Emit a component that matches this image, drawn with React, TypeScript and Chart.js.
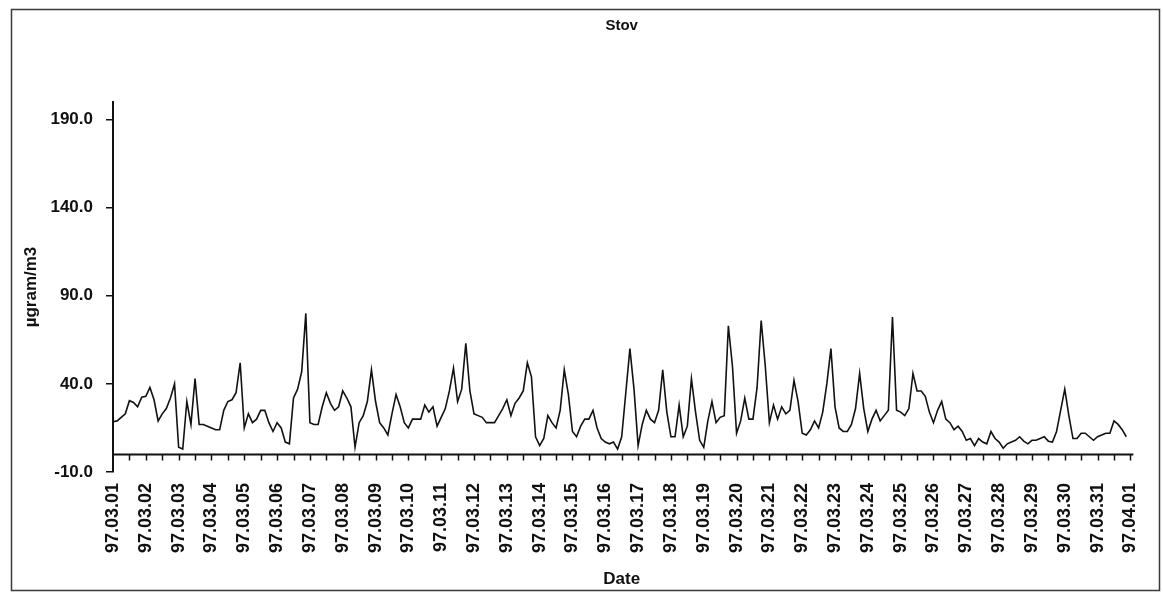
import { useEffect, useRef } from "react";
import { Chart, registerables } from "chart.js";

Chart.register(...registerables);

// Day labels on the time axis (one per day, midnight)
const dayLabels = [
  "97.03.01", "97.03.02", "97.03.03", "97.03.04", "97.03.05", "97.03.06", "97.03.07", "97.03.08",
  "97.03.09", "97.03.10", "97.03.11", "97.03.12", "97.03.13", "97.03.14", "97.03.15", "97.03.16",
  "97.03.17", "97.03.18", "97.03.19", "97.03.20", "97.03.21", "97.03.22", "97.03.23", "97.03.24",
  "97.03.25", "97.03.26", "97.03.27", "97.03.28", "97.03.29", "97.03.30", "97.03.31", "97.04.01",
];

const yTicks = [-10, 40, 90, 140, 190];

// Dust concentration (µg/m3), one reading every 3 hours, grouped by week
const stepHours = 3;

const week1 = [
  18.5, 19, 21, 23, 30.5, 29.5, 27, 32.5,
  33, 38, 31, 19, 23, 26, 32, 40,
  4, 3, 30, 17, 43, 17, 17, 16,
  15, 14, 14, 25, 30, 31, 35, 52,
  15, 23, 18, 20, 25, 25, 18, 13,
  18, 15, 7, 6, 32, 37, 47, 80,
  18, 17, 17, 27, 35, 29, 25, 27,
];

const week2 = [
  36, 32, 27, 4, 18, 22, 30, 48,
  30, 18, 15, 11, 23, 34, 27, 18,
  15, 20, 20, 20, 28, 24, 27, 16,
  21, 26, 36, 49, 30, 37, 63, 36,
  23, 22, 21, 18, 18, 18, 22, 26,
  31, 22, 29, 32, 36, 52, 44, 10,
  5, 9, 22, 18, 15, 25, 48, 34,
];

const week3 = [
  13, 10, 16, 20, 20, 25, 15, 9,
  7, 6, 7, 3, 10, 35, 60, 37,
  5, 17, 25, 20, 18, 25, 48, 24,
  10, 10, 28, 10, 16, 43, 24, 8,
  4, 19, 30, 18, 21, 22, 73, 50,
  12, 19, 32, 20, 20, 38, 76, 50,
  18, 28, 20, 27, 23, 25, 42, 30,
];

const week4 = [
  12, 11, 14, 19, 15, 24, 40, 60,
  27, 15, 13, 13, 17, 26, 46, 26,
  13, 20, 25, 19, 22, 25, 78, 25,
  24, 22, 26, 46, 36, 36, 33, 24,
  18, 25, 30, 20, 18, 14, 16, 13,
  8, 9, 5, 9, 7, 6, 13, 9,
  7, 3.5, 6, 7, 8, 10, 7.5, 6,
];

const week5 = [
  8, 8, 9, 10, 7.5, 7, 13, 25,
  37, 22, 9, 9, 12, 12, 10, 8,
  10, 11, 12, 12, 19, 17, 14, 10,
];

const dust = [...week1, ...week2, ...week3, ...week4, ...week5];

const INK = "#111111";
const FONT = "'Liberation Sans', Arial, sans-serif";

// Page frame, zero baseline with half-day tick marks
const decorations = {
  id: "decorations",
  beforeDraw(chart: any) {
    const { ctx, width, height } = chart;
    ctx.save();
    ctx.fillStyle = "#ffffff";
    ctx.fillRect(0, 0, width, height);
    ctx.strokeStyle = "#3a3a3a";
    ctx.lineWidth = 1.5;
    ctx.strokeRect(11.5, 9.5, 1148, 581);
    ctx.restore();
  },
  afterDatasetsDraw(chart: any) {
    const { ctx } = chart;
    const xs = chart.scales.x;
    const ys = chart.scales.y;
    const y0 = ys.getPixelForValue(0);
    ctx.save();
    ctx.strokeStyle = INK;
    ctx.lineWidth = 2;
    ctx.beginPath();
    ctx.moveTo(xs.left, y0);
    ctx.lineTo(xs.right + 3, y0);
    ctx.stroke();
    ctx.lineWidth = 1.5;
    ctx.beginPath();
    for (let h = 12; h <= 744; h += 12) {
      const px = Math.round(xs.getPixelForValue(h)) + 0.5;
      ctx.moveTo(px, y0);
      ctx.lineTo(px, y0 + 6);
    }
    ctx.stroke();
    ctx.restore();
  },
};

export default function App() {
  const canvasRef = useRef<HTMLCanvasElement | null>(null);

  useEffect(() => {
    const canvas = canvasRef.current;
    if (!canvas) return;
    const points = dust.map((v, i) => ({ x: i * stepHours, y: v }));
    const chart = new Chart(canvas, {
      type: "line",
      data: {
        datasets: [
          {
            label: "Stov",
            data: points,
            borderColor: INK,
            borderWidth: 1.6,
            pointRadius: 0,
            tension: 0,
            fill: false,
          },
        ],
      },
      options: {
        animation: false,
        responsive: false,
        layout: { padding: { left: 0, right: 23, top: 0, bottom: 0 } },
        plugins: {
          legend: { display: false },
          tooltip: { enabled: false },
          title: {
            display: true,
            fullSize: false,
            text: "Stov",
            color: INK,
            font: { family: FONT, size: 15, weight: "bold" },
            padding: { top: 17, bottom: 67 },
          },
        },
        scales: {
          x: {
            type: "linear",
            min: 0,
            max: 744,
            afterFit: (s: any) => {
              s.height = 121;
            },
            afterBuildTicks: (s: any) => {
              s.ticks = dayLabels.map((_, i) => ({ value: i * 24 }));
            },
            grid: { display: false, drawTicks: false },
            border: { display: false },
            ticks: {
              autoSkip: false,
              maxRotation: 90,
              minRotation: 90,
              padding: 11,
              color: INK,
              font: { family: FONT, size: 18, weight: "bold" },
              callback: (v: any) => dayLabels[Math.round(Number(v) / 24)] ?? "",
            },
            title: {
              display: true,
              text: "Date",
              color: INK,
              font: { family: FONT, size: 17, weight: "bold" },
              padding: { top: 0, bottom: 3 },
            },
          },
          y: {
            min: -10,
            max: 200,
            afterFit: (s: any) => {
              s.width = 113;
            },
            afterBuildTicks: (s: any) => {
              s.ticks = yTicks.map((v) => ({ value: v }));
            },
            grid: {
              drawOnChartArea: false,
              drawTicks: true,
              tickLength: 7,
              color: INK,
              lineWidth: 1.5,
            },
            border: { display: true, color: INK, width: 2 },
            ticks: {
              padding: 13,
              color: INK,
              font: { family: FONT, size: 17, weight: "bold" },
              callback: (v: any) => Number(v).toFixed(1),
            },
            title: {
              display: true,
              text: "µgram/m3",
              color: INK,
              font: { family: FONT, size: 17, weight: "bold" },
              padding: { top: 21, bottom: 0 },
            },
          },
        },
      },
      plugins: [decorations],
    });
    return () => chart.destroy();
  }, []);

  return (
    <div style={{ position: "absolute", left: 0, top: 0, width: 1163, height: 593 }}>
      <canvas ref={canvasRef} width={1163} height={593} />
    </div>
  );
}
